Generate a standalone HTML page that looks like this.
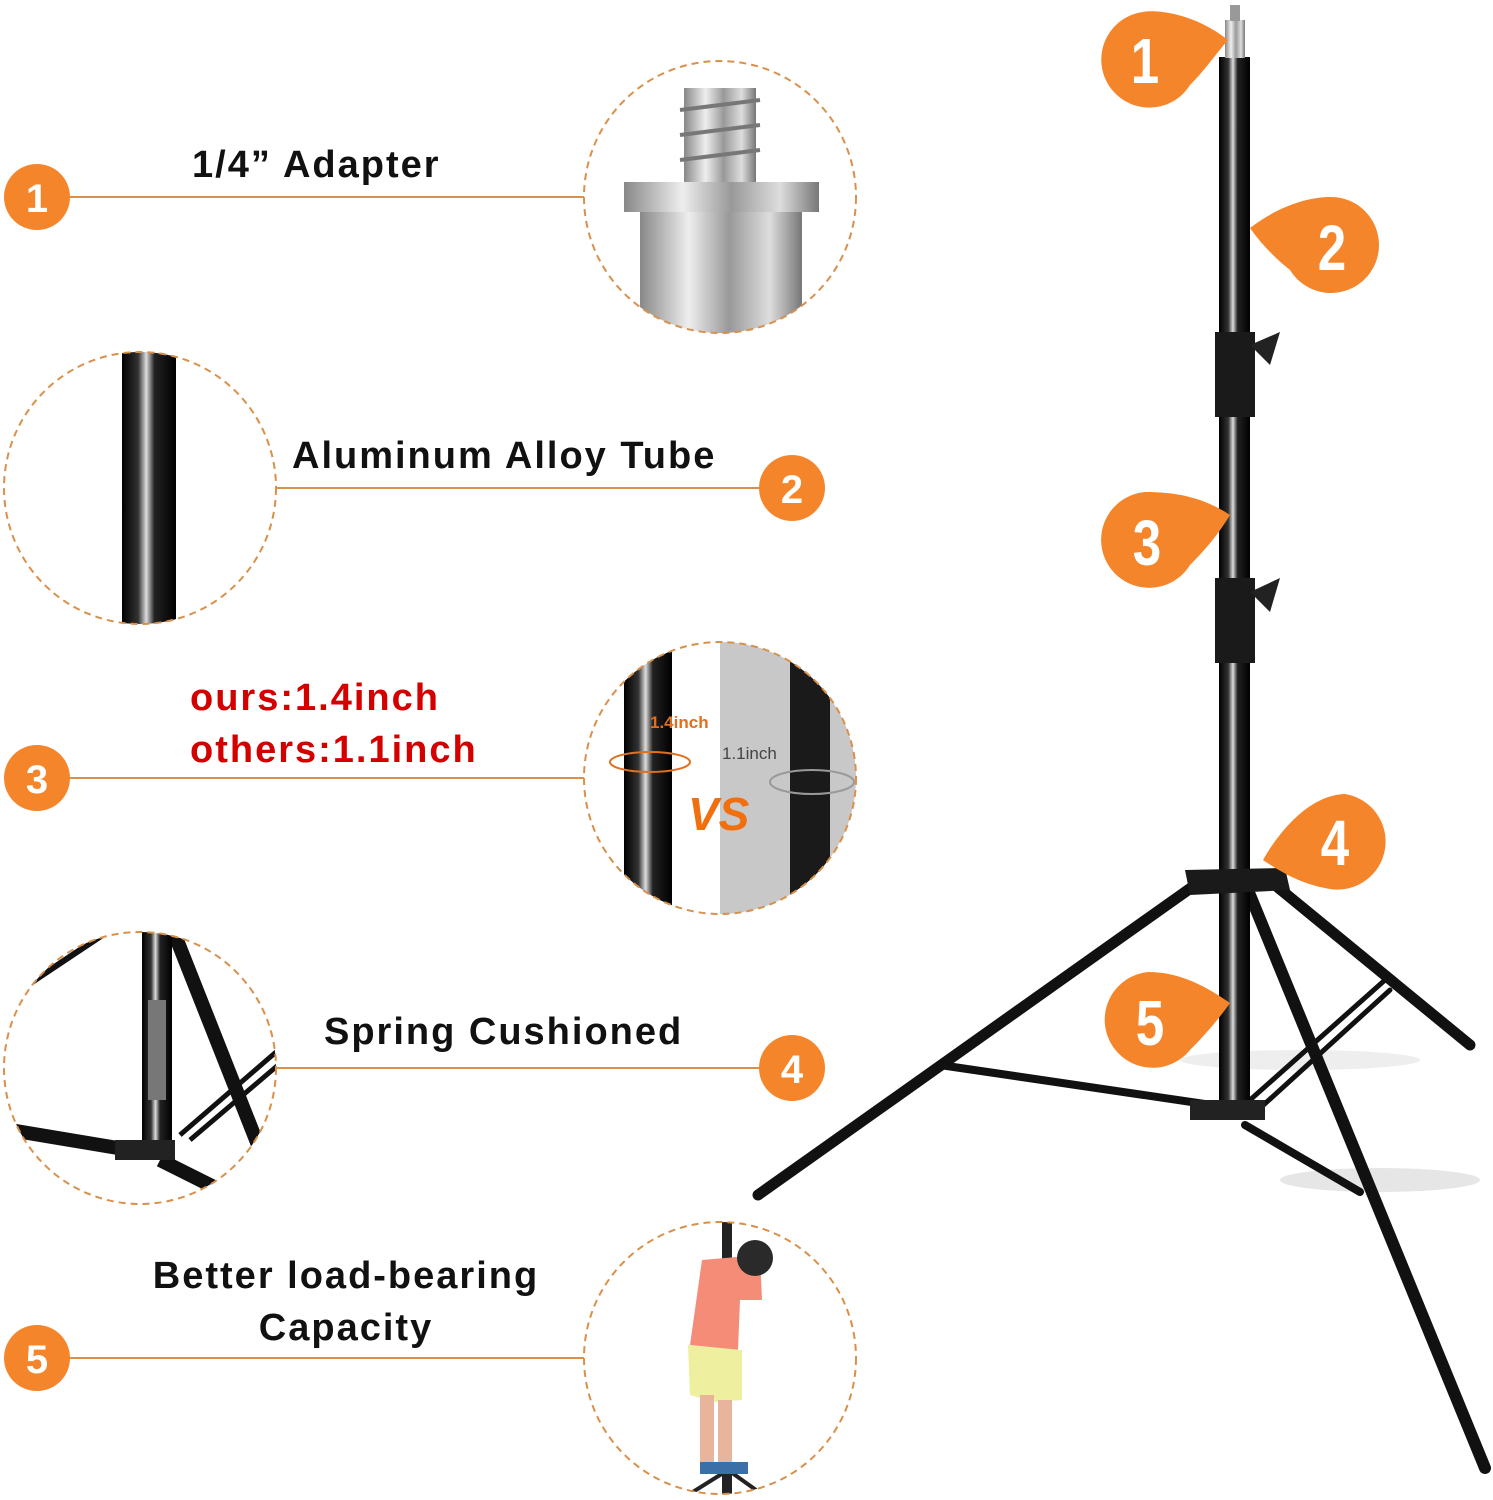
<!DOCTYPE html>
<html><head><meta charset="utf-8"><style>
html,body{margin:0;padding:0;background:#fff;}
svg{display:block;}
text{font-family:"Liberation Sans",sans-serif;}
</style></head><body>
<svg width="1493" height="1500" viewBox="0 0 1493 1500" xmlns="http://www.w3.org/2000/svg">
<defs>
<linearGradient id="tube" x1="0" x2="1" y1="0" y2="0">
<stop offset="0" stop-color="#000"/><stop offset="0.3" stop-color="#333"/><stop offset="0.45" stop-color="#ddd"/><stop offset="0.6" stop-color="#222"/><stop offset="1" stop-color="#000"/>
</linearGradient>
<linearGradient id="metal" x1="0" x2="1" y1="0" y2="0">
<stop offset="0" stop-color="#888"/><stop offset="0.3" stop-color="#eee"/><stop offset="0.55" stop-color="#999"/><stop offset="0.8" stop-color="#ddd"/><stop offset="1" stop-color="#777"/>
</linearGradient>
<clipPath id="c1"><circle cx="720" cy="197" r="136"/></clipPath>
<clipPath id="c2"><circle cx="140" cy="488" r="136"/></clipPath>
<clipPath id="c3"><circle cx="720" cy="778" r="136"/></clipPath>
<clipPath id="c4"><circle cx="140" cy="1068" r="136"/></clipPath>
<clipPath id="c5"><circle cx="720" cy="1358" r="136"/></clipPath>
</defs>

<g stroke="#d9904a" stroke-width="2">
<line x1="68" y1="197" x2="584" y2="197"/>
<line x1="276" y1="488" x2="762" y2="488"/>
<line x1="68" y1="778" x2="584" y2="778"/>
<line x1="276" y1="1068" x2="762" y2="1068"/>
<line x1="68" y1="1358" x2="584" y2="1358"/>
</g>

<g fill="#f5852a">
<circle cx="37" cy="197" r="33"/><circle cx="792" cy="488" r="33"/><circle cx="37" cy="778" r="33"/><circle cx="792" cy="1068" r="33"/><circle cx="37" cy="1358" r="33"/>
</g>
<g fill="#fff" font-size="40" font-weight="bold" text-anchor="middle">
<text x="37" y="212">1</text><text x="792" y="503">2</text><text x="37" y="793">3</text><text x="792" y="1083">4</text><text x="37" y="1373">5</text>
</g>

<g font-size="38" fill="#111" font-weight="bold" letter-spacing="2">
<text x="192" y="177">1/4” Adapter</text>
<text x="292" y="468">Aluminum Alloy Tube</text>
<text x="324" y="1044">Spring Cushioned</text>
<text x="346" y="1288" text-anchor="middle">Better load-bearing</text>
<text x="346" y="1340" text-anchor="middle">Capacity</text>
</g>
<g font-size="38" fill="#d40000" font-weight="bold" letter-spacing="2">
<text x="190" y="710">ours:1.4inch</text>
<text x="190" y="762">others:1.1inch</text>
</g>

<g clip-path="url(#c1)">
<rect x="684" y="88" width="72" height="95" fill="url(#metal)"/>
<g stroke="#777" stroke-width="4"><line x1="680" y1="110" x2="760" y2="100"/><line x1="680" y1="135" x2="760" y2="125"/><line x1="680" y1="160" x2="760" y2="150"/></g>
<rect x="624" y="182" width="195" height="30" fill="url(#metal)"/>
<rect x="640" y="212" width="162" height="130" fill="url(#metal)"/>
</g>
<circle cx="720" cy="197" r="136" fill="none" stroke="#d9904a" stroke-width="2" stroke-dasharray="7 5"/>

<g clip-path="url(#c2)"><rect x="122" y="340" width="54" height="300" fill="url(#tube)"/></g>
<circle cx="140" cy="488" r="136" fill="none" stroke="#d9904a" stroke-width="2" stroke-dasharray="7 5"/>

<g clip-path="url(#c3)">
<rect x="720" y="630" width="150" height="300" fill="#c8c8c8"/>
<rect x="624" y="630" width="48" height="300" fill="url(#tube)"/>
<rect x="790" y="630" width="40" height="300" fill="#1a1a1a"/>
<ellipse cx="650" cy="762" rx="40" ry="10" fill="none" stroke="#e07020" stroke-width="2"/>
<ellipse cx="812" cy="782" rx="42" ry="12" fill="none" stroke="#999" stroke-width="2"/>
<text x="650" y="728" font-size="17" font-weight="bold" fill="#e07020">1.4inch</text>
<text x="722" y="759" font-size="17" fill="#444">1.1inch</text>
<text x="688" y="830" font-size="46" font-style="italic" font-weight="bold" fill="#f07010">VS</text>
</g>
<circle cx="720" cy="778" r="136" fill="none" stroke="#d9904a" stroke-width="2" stroke-dasharray="7 5"/>

<g clip-path="url(#c4)">
<line x1="175" y1="935" x2="260" y2="1150" stroke="#111" stroke-width="14"/>
<line x1="180" y1="1135" x2="290" y2="1040" stroke="#111" stroke-width="5"/>
<line x1="190" y1="1140" x2="290" y2="1055" stroke="#111" stroke-width="5"/>
<line x1="10" y1="1130" x2="130" y2="1150" stroke="#111" stroke-width="14"/>
<line x1="160" y1="1160" x2="220" y2="1190" stroke="#111" stroke-width="14"/>
<line x1="20" y1="990" x2="110" y2="930" stroke="#111" stroke-width="6"/>
<rect x="142" y="930" width="30" height="222" fill="url(#tube)"/>
<rect x="148" y="1000" width="18" height="100" fill="#777"/>
<rect x="115" y="1140" width="60" height="20" fill="#222"/>
</g>
<circle cx="140" cy="1068" r="136" fill="none" stroke="#d9904a" stroke-width="2" stroke-dasharray="7 5"/>

<g clip-path="url(#c5)">
<rect x="722" y="1220" width="10" height="280" fill="#222"/>
<line x1="728" y1="1470" x2="680" y2="1500" stroke="#222" stroke-width="4"/>
<line x1="728" y1="1470" x2="770" y2="1500" stroke="#222" stroke-width="4"/>
<path d="M702 1260 L760 1255 L762 1300 L740 1300 L738 1350 L690 1345 Z" fill="#f58c78"/>
<circle cx="755" cy="1258" r="18" fill="#2a2a2a"/>
<path d="M688 1345 L742 1350 L742 1400 L715 1402 L690 1395 Z" fill="#eef0a0"/>
<rect x="700" y="1395" width="14" height="70" fill="#e9b49c"/>
<rect x="718" y="1400" width="14" height="70" fill="#e9b49c"/>
<rect x="700" y="1462" width="48" height="12" fill="#3a6fa8"/>
</g>
<circle cx="720" cy="1358" r="136" fill="none" stroke="#d9904a" stroke-width="2" stroke-dasharray="7 5"/>

<ellipse cx="1380" cy="1180" rx="100" ry="12" fill="#e6e6e6"/>
<ellipse cx="1300" cy="1060" rx="120" ry="10" fill="#eee"/>
<g stroke="#111" stroke-linecap="round">
<line x1="1195" y1="885" x2="758" y2="1195" stroke-width="11"/>
<line x1="1275" y1="885" x2="1470" y2="1045" stroke-width="11"/>
<line x1="1250" y1="895" x2="1485" y2="1468" stroke-width="12"/>
<line x1="1232" y1="1108" x2="940" y2="1065" stroke-width="8"/>
<line x1="1250" y1="1100" x2="1385" y2="980" stroke-width="5"/>
<line x1="1258" y1="1110" x2="1390" y2="990" stroke-width="5"/>
<line x1="1245" y1="1125" x2="1360" y2="1192" stroke-width="8"/>
</g>
<rect x="1219" y="57" width="31" height="1060" fill="url(#tube)"/>
<rect x="1225" y="20" width="20" height="38" fill="url(#metal)"/>
<rect x="1230" y="5" width="10" height="16" fill="#999"/>
<rect x="1215" y="332" width="40" height="85" fill="#1a1a1a"/>
<rect x="1215" y="578" width="40" height="85" fill="#1a1a1a"/>
<path d="M1250 345 L1280 332 L1270 365 Z" fill="#222"/>
<path d="M1250 592 L1280 578 L1270 612 Z" fill="#222"/>
<path d="M1185 870 L1285 868 L1290 890 L1190 895 Z" fill="#1a1a1a"/>
<rect x="1190" y="1100" width="75" height="20" fill="#222"/>

<g fill="#f5852a">
<path d="M1228 40 C1190 10 1150 10 1143 12 A48 48 0 1 0 1190 85 C1205 70 1215 55 1228 40 Z"/>
<path d="M1250 228 C1280 205 1310 197 1330 197 A48 48 0 1 1 1290 270 C1275 258 1262 245 1250 228 Z"/>
<path d="M1230 515 C1200 495 1170 492 1145 492 A48 48 0 1 0 1190 565 C1205 550 1218 535 1230 515 Z"/>
<path d="M1263 860 C1280 830 1310 795 1345 794 A48 48 0 1 1 1330 889 C1305 885 1285 875 1263 860 Z"/>
<path d="M1230 1003 C1200 982 1175 972 1148 972 A48 48 0 1 0 1190 1050 C1205 1035 1218 1020 1230 1003 Z"/>
</g>
<g fill="#fff" font-size="64" font-weight="bold" text-anchor="middle">
<text x="1145" y="83" transform="translate(1145 0) scale(0.8 1) translate(-1145 0)">1</text>
<text x="1332" y="270" transform="translate(1332 0) scale(0.8 1) translate(-1332 0)">2</text>
<text x="1147" y="565" transform="translate(1147 0) scale(0.8 1) translate(-1147 0)">3</text>
<text x="1335" y="865" transform="translate(1335 0) scale(0.8 1) translate(-1335 0)">4</text>
<text x="1150" y="1045" transform="translate(1150 0) scale(0.8 1) translate(-1150 0)">5</text>
</g>
</svg>
</body></html>
